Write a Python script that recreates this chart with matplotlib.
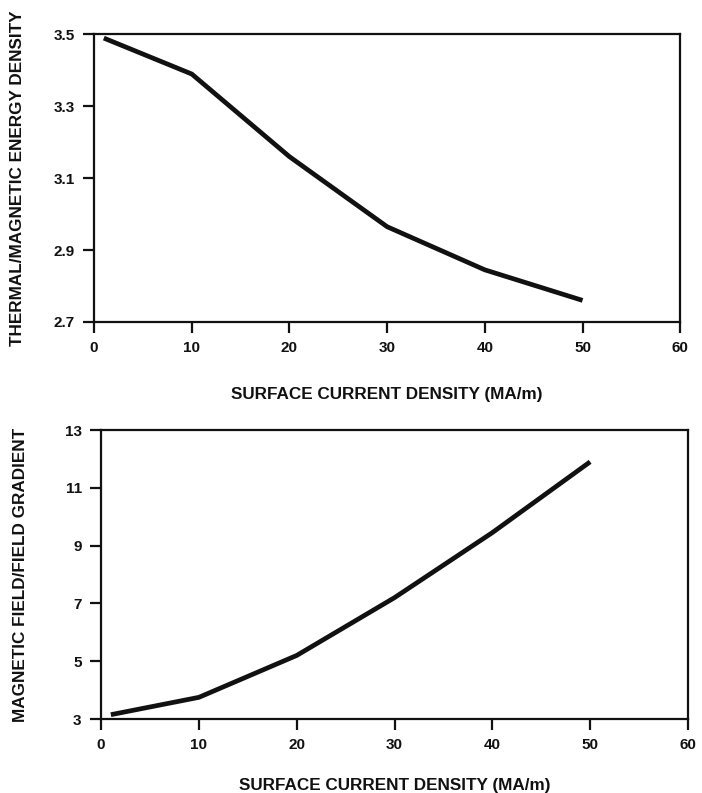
import matplotlib.pyplot as plt

# data
x_top = [1, 10, 20, 30, 40, 50]
y_top = [3.49, 3.39, 3.16, 2.965, 2.845, 2.76]

x_bot = [1, 10, 20, 30, 40, 50]
y_bot = [3.15, 3.75, 5.2, 7.2, 9.45, 11.9]

x_ticks = [0, 10, 20, 30, 40, 50, 60]
top_yticks = [2.7, 2.9, 3.1, 3.3, 3.5]
bot_yticks = [3, 5, 7, 9, 11, 13]

plt.rcParams['font.family'] = ['Liberation Sans', 'DejaVu Sans']
plt.rcParams['font.weight'] = 'bold'

fig = plt.figure(figsize=(7.02, 7.93), dpi=100)
ax1 = fig.add_axes([0.134, 0.594, 0.835, 0.3625])
ax2 = fig.add_axes([0.144, 0.0933, 0.836, 0.3644])

ink = '#111111'


def style(ax, yticks, ylabel, ylab_x, xlab_y):
    ax.set_xlim(0, 60)
    ax.set_ylim(yticks[0], yticks[-1])
    ax.set_xticks(x_ticks)
    ax.set_yticks(yticks)
    ax.set_yticklabels([f'{t:g}' for t in yticks])
    for s in ax.spines.values():
        s.set_linewidth(1.6)
        s.set_color(ink)
    ax.tick_params(direction='out', length=8, width=1.6, pad=6,
                   labelsize=11, colors=ink)
    ax.set_xlabel('SURFACE CURRENT DENSITY (MA/m)', fontsize=12.3,
                  fontweight='bold', color=ink)
    ax.set_ylabel(ylabel, fontsize=12.3, fontweight='bold', color=ink)
    ax.yaxis.set_label_coords(ylab_x, 0.5)
    ax.xaxis.set_label_coords(0.5, xlab_y)


ax1.plot(x_top, y_top, color=ink, lw=3.4, solid_capstyle='butt')
style(ax1, top_yticks, 'THERMAL/MAGNETIC ENERGY DENSITY', -0.118, -0.226)

ax2.plot(x_bot, y_bot, color=ink, lw=3.4, solid_capstyle='butt')
style(ax2, bot_yticks, 'MAGNETIC FIELD/FIELD GRADIENT', -0.125, -0.204)

fig.savefig('out.png', dpi=100)
